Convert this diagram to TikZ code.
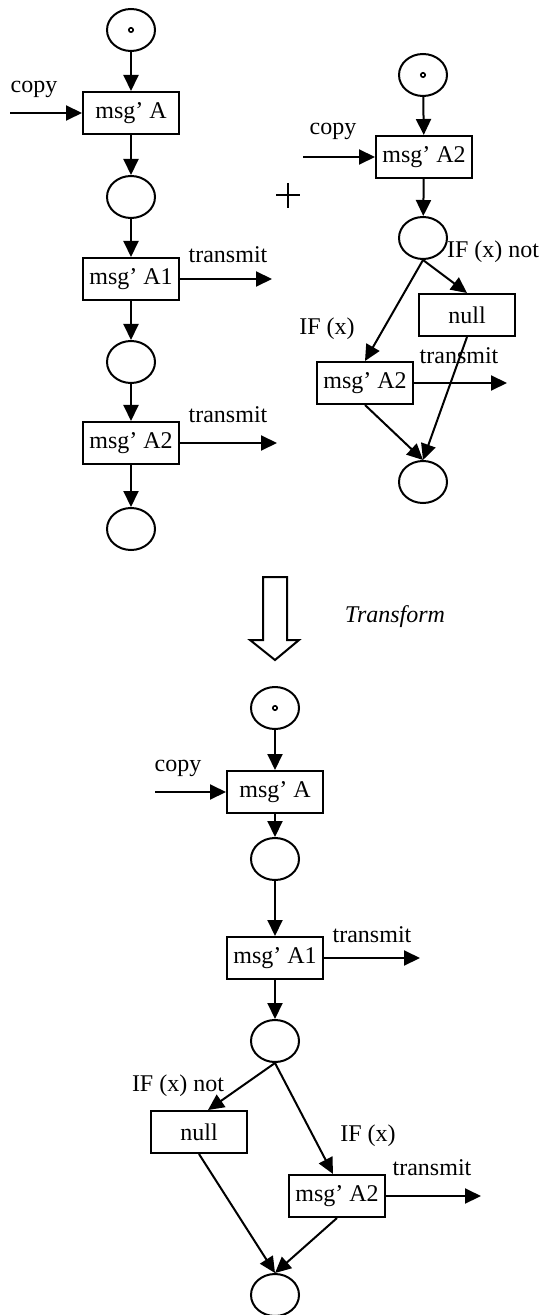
\documentclass[tikz,border=0pt]{standalone}
\usepackage{fontspec}
\setmainfont{Liberation Serif}
\usepackage{tikz}
\usetikzlibrary{arrows.meta,shapes.geometric}

\begin{document}
\begin{tikzpicture}[x=0.5pt,y=-0.5pt,
  every node/.style={font=\fontsize{12}{14}\selectfont},
  place/.style={ellipse,draw,line width=1pt,minimum width=24pt,minimum height=21pt,inner sep=0pt},
  trans/.style={rectangle,draw,line width=1pt,minimum width=48pt,minimum height=21pt,inner sep=0pt},
  arc/.style={line width=1pt,-{Triangle[length=8pt,width=7.5pt]}},
  tok/.style={line width=0.8pt},
  lbl/.style={inner sep=0pt}]
\useasboundingbox (0,0) rectangle (544,1315);
% left net
\node[place] (pA0) at (131,30) {};
\draw[tok] (pA0.center) circle (1.1pt);
\node[trans] (tA) at (131,113) {msg’ A};
\node[place] (pA1) at (131,197) {};
\node[trans] (tA1) at (131,279) {msg’ A1};
\node[place] (pA2) at (131,362) {};
\node[trans] (tA2) at (131,443) {msg’ A2};
\node[place] (pA3) at (131,529) {};
\coordinate (cA) at (10,113);
\coordinate (xA1) at (272,279);
\coordinate (xA2) at (277,443);
\draw[arc] (pA0) -- (tA);
\draw[arc] (tA) -- (pA1);
\draw[arc] (pA1) -- (tA1);
\draw[arc] (tA1) -- (pA2);
\draw[arc] (pA2) -- (tA2);
\draw[arc] (tA2) -- (pA3);
\draw[arc] (cA) -- (tA);
\draw[arc] (tA1) -- (xA1);
\draw[arc] (tA2) -- (xA2);
\node[lbl] (lA) at (34,89) {copy};
\node[lbl] (lA1) at (228,255) {transmit};
\node[lbl] (lA2) at (228,415) {transmit};
% plus
\draw[line width=0.7pt] (276,195) -- (300,195) (288,183) -- (288,208);
% right net
\node[place] (pB0) at (423,75) {};
\draw[tok] (pB0.center) circle (1.1pt);
\node[trans] (tB) at (424,157) {msg’ A2};
\node[place] (pB1) at (423,238) {};
\node[trans] (tBn) at (467,315) {null};
\node[trans] (tB2) at (365,383) {msg’ A2};
\node[place] (pB2) at (423,482) {};
\coordinate (cB) at (303,157);
\coordinate (xB2) at (507,383);
\draw[arc] (pB0) -- (tB);
\draw[arc] (tB) -- (pB1);
\draw[arc] (cB) -- (tB);
\draw[arc] (pB1.south) -- (tBn.north);
\draw[arc] (pB1.south) -- (tB2.north);
\draw[arc] (tB2) -- (xB2);
\draw[arc] (tBn.south) -- (pB2.north);
\draw[arc] (tB2.south) -- (pB2.north);
\node[lbl] (lB) at (333,131) {copy};
\node[lbl] (lBn) at (493,252) {IF (x) not};
\node[lbl] (lBx) at (327,329) {IF (x)};
\node[lbl] (lB2) at (459,356) {transmit};
% transform arrow
\draw[line width=1pt] (263,577) -- (287,577) -- (287,640) -- (299,640) -- (275,660)
  -- (250,640) -- (263,640) -- cycle;
\node[lbl] (lT) at (395,617) {\itshape Transform};
% merged net
\node[place] (pC0) at (275,708) {};
\draw[tok] (pC0.center) circle (1.1pt);
\node[trans] (tC) at (275,792) {msg’ A};
\node[place] (pC1) at (275,859) {};
\node[trans] (tC1) at (275,958) {msg’ A1};
\node[place] (pC2) at (275,1041) {};
\node[trans] (tCn) at (199,1132) {null};
\node[trans] (tC2) at (337,1196) {msg’ A2};
\node[place] (pC3) at (275,1295) {};
\coordinate (cC) at (155,792);
\coordinate (xC1) at (420,958);
\coordinate (xC2) at (481,1196);
\draw[arc] (pC0) -- (tC);
\draw[arc] (tC) -- (pC1);
\draw[arc] (cC) -- (tC);
\draw[arc] (pC1) -- (tC1);
\draw[arc] (tC1) -- (pC2);
\draw[arc] (tC1) -- (xC1);
\draw[arc] (pC2.south) -- ([xshift=4.5pt]tCn.north);
\draw[arc] (pC2.south) -- ([xshift=-2pt]tC2.north);
\draw[arc] (tC2) -- (xC2);
\draw[arc] (tCn.south) -- (pC3.north);
\draw[arc] (tC2.south) -- (pC3.north);
\node[lbl] (lC) at (178,768) {copy};
\node[lbl] (lC1) at (372,935) {transmit};
\node[lbl] (lCn) at (178,1086) {IF (x) not};
\node[lbl] (lCx) at (368,1136) {IF (x)};
\node[lbl] (lC2) at (432,1168) {transmit};
\end{tikzpicture}
\end{document}
